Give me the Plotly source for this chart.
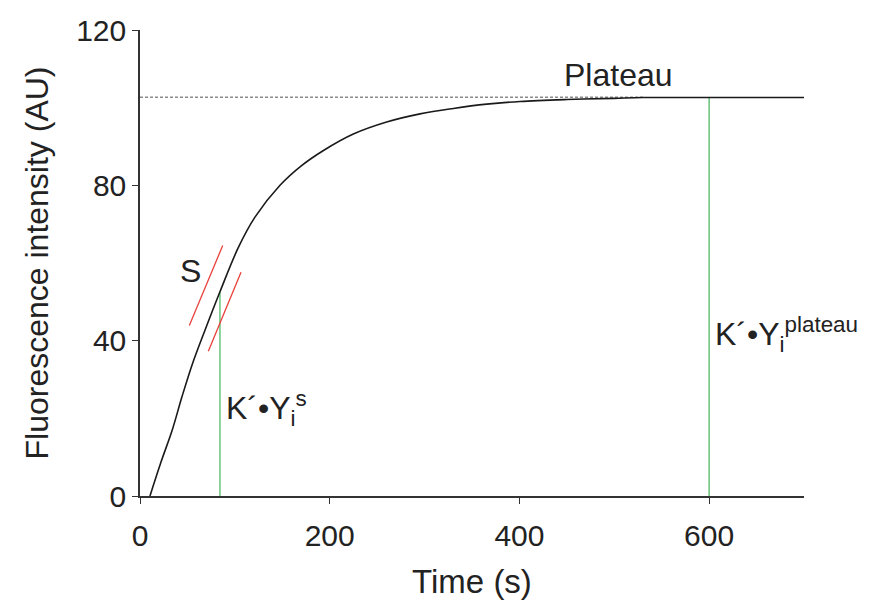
import plotly.graph_objects as go

# Data
time_s = [10.5, 21.8, 34, 44.3, 55.5, 68.5, 84.3, 103.7, 121.2, 147.6, 170, 193,
          224.9, 260, 295.2, 330.3, 365.5, 400.6, 450, 500, 530, 600, 700]
intensity = [0, 8.5, 17, 25.6, 34.2, 42.7, 52.6, 64.0, 71.8, 80.0, 85.0, 88.9,
             93.2, 96.3, 98.4, 99.8, 100.9, 101.6, 102.1, 102.4, 102.6, 102.6, 102.6]

plateau_value = 102.7
plateau_span = [0, 530]

slope_line1_t = [52, 87.2]
slope_line1_y = [43.9, 64.5]
slope_line2_t = [72, 106.5]
slope_line2_y = [37.3, 57.6]

marker_s_t = [84.3, 84.3]
marker_s_y = [0, 52.6]
marker_p_t = [600, 600]
marker_p_y = [0, 102.6]

x_ticks = [0, 200, 400, 600]
y_ticks = [0, 40, 80, 120]

FONT = "Liberation Sans, Arial, Helvetica, sans-serif"
TXT = "#222222"

fig = go.Figure()

fig.add_trace(go.Scatter(x=plateau_span, y=[plateau_value, plateau_value], mode="lines",
                         line=dict(color="#8a8a8a", width=1.4, dash="3px,2px"),
                         showlegend=False, hoverinfo="skip"))
fig.add_trace(go.Scatter(x=marker_s_t, y=marker_s_y, mode="lines",
                         line=dict(color="#5cbf73", width=1.4), showlegend=False))
fig.add_trace(go.Scatter(x=marker_p_t, y=marker_p_y, mode="lines",
                         line=dict(color="#5cbf73", width=1.4), showlegend=False))
fig.add_trace(go.Scatter(x=slope_line1_t, y=slope_line1_y, mode="lines",
                         line=dict(color="#e8413c", width=1.3), showlegend=False))
fig.add_trace(go.Scatter(x=slope_line2_t, y=slope_line2_y, mode="lines",
                         line=dict(color="#e8413c", width=1.3), showlegend=False))
fig.add_trace(go.Scatter(x=time_s, y=intensity, mode="lines",
                         line=dict(color="#1a1a1a", width=1.6, shape="spline", smoothing=1.0),
                         showlegend=False))

ann_font = dict(family=FONT, size=32, color=TXT)
fig.add_annotation(x=504, y=plateau_value, yshift=2, text="Plateau", showarrow=False,
                   xanchor="center", yanchor="bottom", font=ann_font)
fig.add_annotation(x=53, y=58, text="S", showarrow=False,
                   xanchor="center", yanchor="middle", font=ann_font)
fig.add_annotation(x=89, y=22.6, text="K´•Y<sub>i</sub><sup>s</sup>", showarrow=False,
                   xanchor="left", yanchor="middle", font=ann_font)
fig.add_annotation(x=604, y=41.6, text="K´•Y<sub>i</sub><sup>plateau</sup>", showarrow=False,
                   xanchor="left", yanchor="middle", font=ann_font)

axis_common = dict(showline=True, linecolor="#333333", linewidth=1.5, ticks="outside",
                   ticklen=6, tickwidth=1.3, tickcolor="#333333", showgrid=False,
                   zeroline=False, tickfont=dict(family=FONT, size=30, color=TXT))

fig.update_xaxes(range=[0, 700], tickvals=x_ticks, ticklabelstandoff=6,
                 title=dict(text="Time (s)", font=dict(family=FONT, size=33, color=TXT),
                            standoff=19),
                 **axis_common)
fig.update_yaxes(range=[0, 120], tickvals=y_ticks, ticklabelstandoff=0,
                 title=dict(text="Fluorescence intensity (AU)",
                            font=dict(family=FONT, size=32, color=TXT), standoff=18),
                 **axis_common)

fig.update_layout(width=878, height=606, margin=dict(l=140, r=74, t=30, b=110),
                  plot_bgcolor="white", paper_bgcolor="white",
                  font=dict(family=FONT, color=TXT))

fig.write_html("out.html")
